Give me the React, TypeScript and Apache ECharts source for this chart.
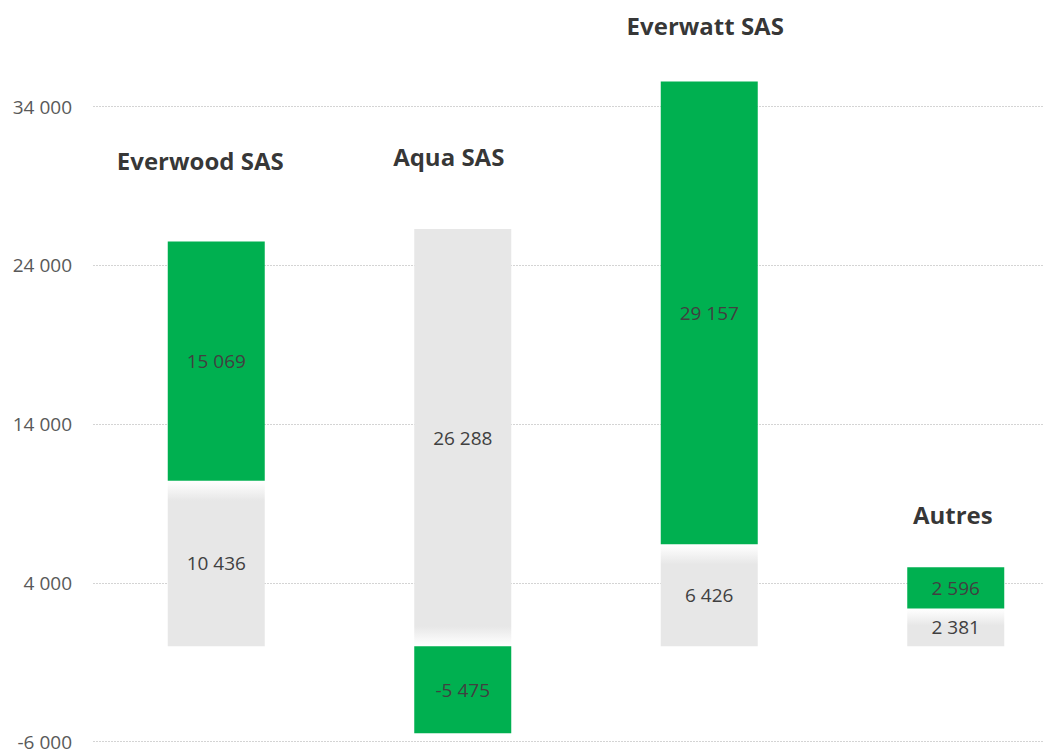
import React, { useEffect, useRef } from "react";
import * as echarts from "echarts";

// ---- data ----
const categories = ["Everwood SAS", "Aqua SAS", "Everwatt SAS", "Autres"];
const grayValues = [10436, 26288, 6426, 2381];
const greenValues = [15069, -5475, 29157, 2596];
const yMin = -6000;
const yMax = 44000;
const yInterval = 10000;
const yLastLabel = 34000;

// ---- layout / style constants ----
const PAGE_W = 1044;
const PAGE_H = 751;
const SHIFT_TOP = 60; // chart div starts above the page top
const EXTRA_RIGHT = 80; // chart div extends past the page's right edge
const GRID_TOP = 8; // page y = GRID_TOP - SHIFT_TOP
const GRID_HEIGHT = 794;
const GRID_LEFT = 93;
const GRID_WIDTH = 986;
const nameLabelOffsetsY = [81, 73, 56, 53]; // px above stack top
const nameLabelOffsetsX = [-16, -14, -4, -3]; // px from bar centre
const GREEN = "#00B050";
const GRAY = "#e7e7e7";
const FADE_PX = 20;

const fmt = (n: number) => {
  const s = String(Math.abs(Math.round(n))).replace(/\B(?=(\d{3})+(?!\d))/g, " ");
  return (n < 0 ? "-" : "") + s;
};

export default function App() {
  const ref = useRef<HTMLDivElement>(null);

  useEffect(() => {
    if (!ref.current) return;
    const chart = echarts.init(ref.current, undefined, { renderer: "svg" });
    const pxPerUnit = GRID_HEIGHT / (yMax - yMin);

    const grayData = grayValues.map((v, i) => {
      const h = Math.abs(v) * pxPerUnit;
      const f = Math.min(0.45, FADE_PX / h);
      const fadeBottom = greenValues[i] < 0;
      const stops = fadeBottom
        ? [
            { offset: 0, color: GRAY },
            { offset: 1 - f, color: GRAY },
            { offset: 1 - f * 0.2, color: "#fbfbfb" },
            { offset: 1, color: "#ffffff" },
          ]
        : [
            { offset: 0, color: "#ffffff" },
            { offset: f * 0.2, color: "#fbfbfb" },
            { offset: f, color: GRAY },
            { offset: 1, color: GRAY },
          ];
      return {
        value: v,
        itemStyle: { color: new echarts.graphic.LinearGradient(0, 0, 0, 1, stops) },
      };
    });

    const tops = categories.map(
      (_, i) => Math.max(grayValues[i], 0) + Math.max(greenValues[i], 0)
    );

    const valueLabel = {
      show: true,
      position: "inside" as const,
      color: "#404040",
      fontFamily: "Open Sans",
      fontSize: 19,
      formatter: (p: any) => fmt(p.value),
    };

    chart.setOption({
      animation: false,
      grid: { left: GRID_LEFT, top: GRID_TOP, width: GRID_WIDTH, height: GRID_HEIGHT, containLabel: false },
      xAxis: {
        type: "category",
        data: categories,
        axisLine: { show: false },
        axisTick: { show: false },
        axisLabel: { show: false },
        splitLine: { show: false },
      },
      yAxis: {
        type: "value",
        min: yMin,
        max: yMax,
        interval: yInterval,
        axisLine: { show: false },
        axisTick: { show: false },
        axisLabel: {
          color: "#595959",
          fontFamily: "Open Sans",
          fontSize: 19,
          lineHeight: 16,
          margin: 21,
          formatter: (v: number) => (v > yLastLabel ? "" : fmt(v)),
        },
        splitLine: { lineStyle: { color: "#d4d4d4", width: 1, type: [2, 1] } },
      },
      series: [
        {
          type: "bar",
          name: "gray",
          stack: "total",
          barWidth: 97,
          data: grayData,
          label: valueLabel,
        },
        {
          type: "bar",
          name: "green",
          stack: "total",
          barWidth: 97,
          itemStyle: { color: GREEN },
          data: greenValues,
          label: valueLabel,
        },
        {
          type: "scatter",
          name: "names",
          symbolSize: 1,
          itemStyle: { color: "rgba(0,0,0,0)" },
          silent: true,
          data: tops.map((t, i) => ({
            value: t,
            label: {
              show: true,
              position: "inside",
              offset: [nameLabelOffsetsX[i], -nameLabelOffsetsY[i]],
              formatter: categories[i],
              color: "#000000",
              fontFamily: "Open Sans",
              fontWeight: "bold",
              fontSize: 24,
            },
          })),
        },
      ],
    });

    return () => chart.dispose();
  }, []);

  return (
    <div style={{ position: "absolute", left: 0, top: 0, width: PAGE_W, height: PAGE_H, overflow: "hidden", background: "#ffffff" }}>
      <div
        ref={ref}
        style={{ position: "absolute", left: 0, top: -SHIFT_TOP, width: PAGE_W + EXTRA_RIGHT, height: PAGE_H + SHIFT_TOP }}
      />
    </div>
  );
}
